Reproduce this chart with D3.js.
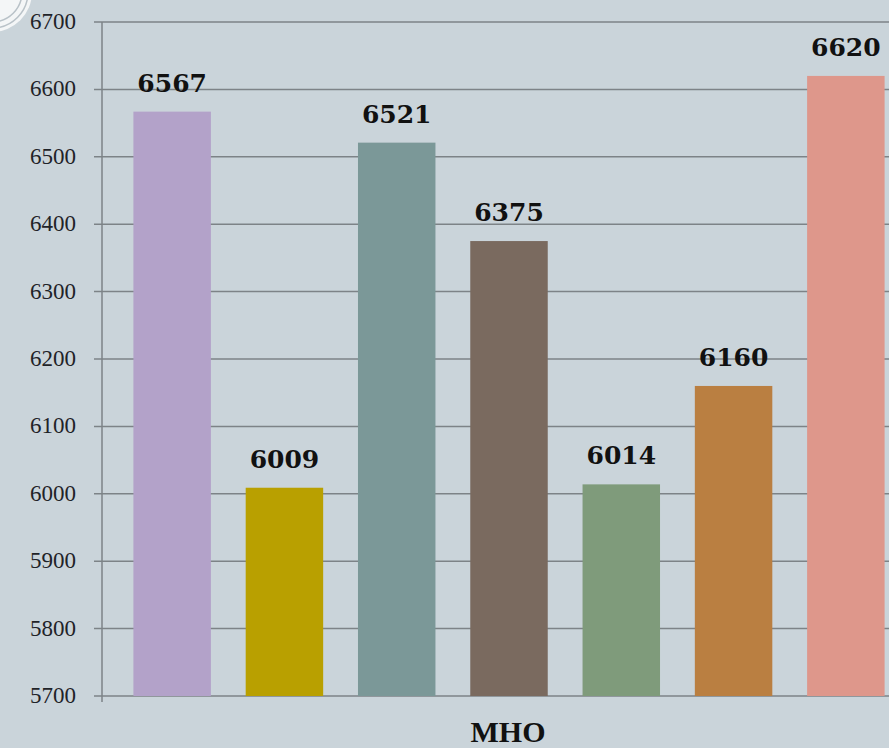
<!DOCTYPE html>
<html>
<head>
<meta charset="utf-8">
<script src="https://cdn.jsdelivr.net/npm/d3@7"></script>
<style>
  html, body { margin: 0; padding: 0; background: #cad4da; }
  svg { display: block; font-family: "DejaVu Serif", Georgia, serif; }
</style>
</head>
<body>
<div id="chart"></div>
<script>
const categories = ["A", "B", "C", "D", "E", "F", "G"];
const values = [6567, 6009, 6521, 6375, 6014, 6160, 6620];
const colors = ["#b3a2c9", "#b9a000", "#7b9898", "#7a6a5f", "#7f9b7b", "#ba7f41", "#de978b"];
const yTicks = [5700, 5800, 5900, 6000, 6100, 6200, 6300, 6400, 6500, 6600, 6700];
const xTitle = "MHO";

const width = 889, height = 748;

const svg = d3.select("#chart").append("svg")
  .attr("width", width)
  .attr("height", height);

svg.append("rect")
  .attr("width", width).attr("height", height)
  .attr("fill", "#cad4da");

/* decoration in the top-left corner */
const deco = svg.append("g");
deco.append("circle").attr("cx", -8).attr("cy", -8).attr("r", 40).attr("fill", "#f4f6f7");
[30, 36].forEach(r => {
  deco.append("circle").attr("cx", -8).attr("cy", -8).attr("r", r)
    .attr("fill", "none").attr("stroke", "#b9c2c8").attr("stroke-width", 1.5);
});

const y = d3.scaleLinear().domain([5700, 6700]).range([696, 22]);
const x = d3.scaleBand().domain(categories).range([116, 902]).paddingInner(0.31).paddingOuter(0.155);

// grid lines
svg.append("g")
  .selectAll("line")
  .data(yTicks)
  .join("line")
  .attr("x1", 94).attr("x2", width)
  .attr("y1", d => y(d)).attr("y2", d => y(d))
  .attr("stroke", "#7d8387")
  .attr("stroke-width", 1.5);

// y axis line
svg.append("line")
  .attr("x1", 102).attr("x2", 102)
  .attr("y1", y(6700)).attr("y2", y(5700) + 6)
  .attr("stroke", "#7d8387")
  .attr("stroke-width", 1.5);

// tick labels
svg.append("g")
  .selectAll("text")
  .data(yTicks)
  .join("text")
  .attr("x", 76)
  .attr("y", d => y(d) + 7)
  .attr("text-anchor", "end")
  .attr("font-size", 23)
  .attr("font-family", "'Liberation Serif', serif")
  .attr("fill", "#1f2328")
  .style("font-variant-numeric", "oldstyle-nums")
  .text(d => d);

// bars
svg.append("g")
  .selectAll("rect")
  .data(values)
  .join("rect")
  .attr("x", (d, i) => x(categories[i]))
  .attr("width", x.bandwidth())
  .attr("y", d => y(d))
  .attr("height", d => y(5700) - y(d))
  .attr("fill", (d, i) => colors[i]);

// value labels
svg.append("g")
  .selectAll("text")
  .data(values)
  .join("text")
  .attr("x", (d, i) => x(categories[i]) + x.bandwidth() / 2)
  .attr("y", d => y(d) - 20)
  .attr("text-anchor", "middle")
  .attr("font-size", 25)
  .attr("font-weight", "bold")
  .attr("font-family", "'DejaVu Serif', serif")
  .attr("fill", "#111")
  .style("font-variant-numeric", "oldstyle-nums")
  .text(d => d);

// x title
svg.append("text")
  .attr("x", 508)
  .attr("y", 742)
  .attr("text-anchor", "middle")
  .attr("font-size", 30)
  .attr("font-weight", "bold")
  .attr("font-family", "'Liberation Serif', serif")
  .attr("fill", "#111")
  .text(xTitle);
</script>
</body>
</html>
